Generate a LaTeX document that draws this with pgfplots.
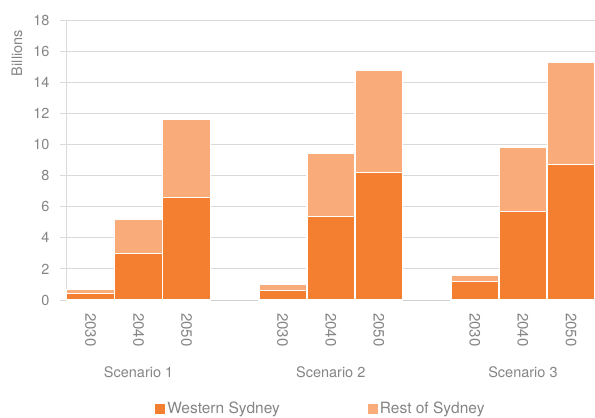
\documentclass[border=0pt]{standalone}
\usepackage{pgfplots}
\pgfplotsset{compat=1.18}
\usepackage{fontspec}
\setmainfont{TeX Gyre Heros}
\definecolor{ws}{HTML}{F47F30}
\definecolor{rs}{HTML}{F9AC7A}
\definecolor{txt}{HTML}{858585}
\definecolor{grd}{HTML}{DADADA}
\definecolor{xax}{HTML}{CFCFCF}
\newcommand{\lblfont}{\fontsize{14.5}{17}\selectfont}
\newcommand{\yrfont}{\fontsize{15}{17}\selectfont}
\newcommand{\legfont}{\fontsize{15.5}{18}\selectfont}

\begin{document}
\begin{tikzpicture}
\begin{axis}[
  at={(0,0)}, anchor=south west,
  scale only axis, width=528.5pt, height=280pt,
  clip=false,
  ybar stacked, bar width=47.6pt,
  xmin=-0.5, xmax=10.5, ymin=0, ymax=18,
  ytick={0,2,...,18},
  xtick={0,1,2,4,5,6,8,9,10},
  xticklabels={2030,2040,2050,2030,2040,2050,2030,2040,2050},
  axis lines*=left,
  x axis line style={xax, line width=1pt},
  y axis line style={grd, line width=1pt},
  ymajorgrids, grid style={grd, line width=1pt},
  tick align=outside, major tick length=6.5pt,
  ytick style={grd, line width=1pt},
  xtick style={draw=none},
  /pgf/number format/assume math mode=true,
  ticklabel style={font=\lblfont, text=txt},
  yticklabel style={xshift=-7pt},
  xticklabel style={font=\yrfont, rotate=-90, anchor=west, xshift=3pt},
  ylabel={Billions},
  ylabel style={font=\lblfont, text=txt, at={(axis description cs:-0.0937,0.882)}, anchor=center},
  legend columns=2,
  legend style={draw=none, font=\legfont, text=txt, at={(axis description cs:0.162,-0.350)}, anchor=north west,
    /tikz/every even column/.append style={column sep=86pt}},
  legend image code/.code={\path[#1, draw=none] (0pt,-5pt) rectangle (10pt,5pt);},
]
\addplot[fill=ws, draw=white, line width=1.2pt] coordinates {
  (0,0.4) (1,3.0) (2,6.6)
  (4,0.6) (5,5.35) (6,8.2)
  (8,1.2) (9,5.7) (10,8.7)};
\addplot[fill=rs, draw=white, line width=1.2pt] coordinates {
  (0,0.3) (1,2.2) (2,5.0)
  (4,0.4) (5,4.05) (6,6.55)
  (8,0.4) (9,4.1) (10,6.6)};
\legend{Western Sydney, Rest of Sydney}
\node[font=\lblfont, text=txt] at (axis cs:1,0) [yshift=-72pt] {Scenario 1};
\node[font=\lblfont, text=txt] at (axis cs:5,0) [yshift=-72pt] {Scenario 2};
\node[font=\lblfont, text=txt] at (axis cs:9,0) [yshift=-72pt] {Scenario 3};
\end{axis}
\pgfresetboundingbox
\useasboundingbox (-66.5pt,-118pt) rectangle (528.5pt,300pt);
\end{tikzpicture}
\end{document}
